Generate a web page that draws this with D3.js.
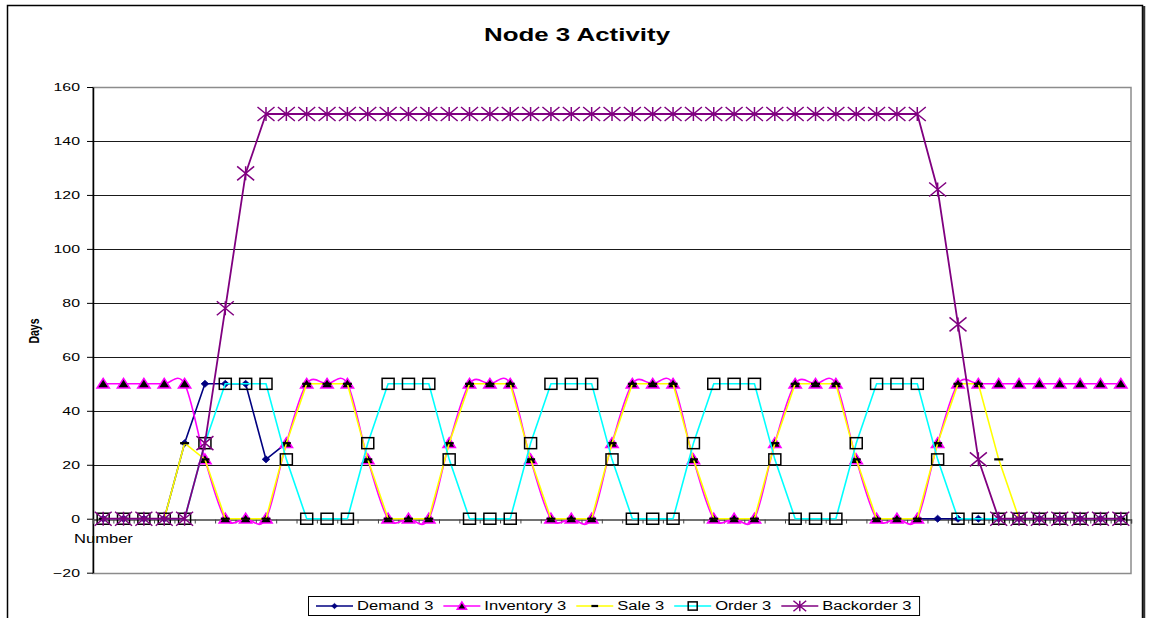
<!DOCTYPE html>
<html>
<head>
<meta charset="utf-8">
<script src="https://cdn.jsdelivr.net/npm/d3@7"></script>
<style>
  html, body { margin: 0; padding: 0; background: #fff; }
  svg { display: block; font-family: "Liberation Sans", Arial, sans-serif; }
</style>
</head>
<body>
<svg id="chart" width="1149" height="618"></svg>
<script>
// chart data
const categories = [1, 2, 3, 4, 5, 6, 7, 8, 9, 10, 11, 12, 13, 14, 15, 16, 17, 18, 19, 20,
  21, 22, 23, 24, 25, 26, 27, 28, 29, 30, 31, 32, 33, 34, 35, 36, 37, 38, 39, 40,
  41, 42, 43, 44, 45, 46, 47, 48, 49, 50, 51];
const yTicks = [-20, 0, 20, 40, 60, 80, 100, 120, 140, 160];

const demand = [0, 0, 0, 0, 28, 50, 50, 50, 22, 28,
  null, null, null, null, null, null, null, null, null, null,
  null, null, null, null, null, null, null, null, null, null,
  null, null, null, null, null, null, null, null, null, null,
  0, 0, 0, 0, 0, 0, 0, 0, 0, 0, 0];
const inventory = [50, 50, 50, 50, 50, 22, 0, 0, 0, 28,
  50, 50, 50, 22, 0, 0, 0, 28,
  50, 50, 50, 22, 0, 0, 0, 28,
  50, 50, 50, 22, 0, 0, 0, 28,
  50, 50, 50, 22, 0, 0, 0, 28,
  50, 50, 50, 50, 50, 50, 50, 50, 50];
const sale = [0, 0, 0, 0, 28, 22, 0, 0, 0, 28,
  50, 50, 50, 22, 0, 0, 0, 28,
  50, 50, 50, 22, 0, 0, 0, 28,
  50, 50, 50, 22, 0, 0, 0, 28,
  50, 50, 50, 22, 0, 0, 0, 28,
  50, 50, 22, 0, 0, 0, 0, 0, 0];
const order = [0, 0, 0, 0, 0, 28, 50, 50, 50, 22,
  0, 0, 0, 28, 50, 50, 50, 22,
  0, 0, 0, 28, 50, 50, 50, 22,
  0, 0, 0, 28, 50, 50, 50, 22,
  0, 0, 0, 28, 50, 50, 50, 22,
  0, 0, 0, 0, 0, 0, 0, 0, 0];
const backorder = [0, 0, 0, 0, 0, 28, 78, 128,
  150, 150, 150, 150, 150, 150, 150, 150, 150, 150, 150,
  150, 150, 150, 150, 150, 150, 150, 150, 150, 150, 150, 150,
  150, 150, 150, 150, 150, 150, 150, 150, 150, 150,
  122, 72, 22, 0, 0, 0, 0, 0, 0, 0];

const series = [
  { name: 'Demand 3', values: demand, color: '#000080', marker: 'diamond', smooth: false },
  { name: 'Inventory 3', values: inventory, color: '#ff00ff', marker: 'triangle', smooth: true },
  { name: 'Sale 3', values: sale, color: '#ffff00', marker: 'dash', smooth: false },
  { name: 'Order 3', values: order, color: '#00ffff', marker: 'square', smooth: false },
  { name: 'Backorder 3', values: backorder, color: '#800080', marker: 'asterisk', smooth: false }
];

// the original picture is stretched sideways, text too
const SX = 1.38;

const svg = d3.select('#chart');
const plot = { left: 93, right: 1131, top: 87, bottom: 572.7 };

// outer frame
svg.append('rect')
  .attr('x', 7.5).attr('y', 5.5)
  .attr('width', 1135).attr('height', 630)
  .attr('fill', '#fff')
  .attr('stroke', '#000')
  .attr('stroke-width', 1.5);
svg.append('line')
  .attr('x1', 1144).attr('x2', 1144)
  .attr('y1', 6).attr('y2', 618)
  .attr('stroke', '#333')
  .attr('stroke-width', 2.5);

const x = d3.scaleBand()
  .domain(categories)
  .range([plot.left, plot.right])
  .padding(0);

const y = d3.scaleLinear()
  .domain([-20, 160])
  .range([plot.bottom, plot.top]);

const cx = i => x(categories[i]) + x.bandwidth() / 2;

// grid lines
svg.append('g')
  .selectAll('line')
  .data(yTicks.filter(t => t > 0 && t < 160))
  .join('line')
  .attr('x1', plot.left).attr('x2', plot.right)
  .attr('y1', d => Math.round(y(d)) + 0.5).attr('y2', d => Math.round(y(d)) + 0.5)
  .attr('stroke', '#1a1a1a')
  .attr('stroke-width', 1);

// plot area border
svg.append('rect')
  .attr('x', plot.left).attr('y', Math.round(plot.top) + 0.5)
  .attr('width', plot.right - plot.left)
  .attr('height', Math.round(plot.bottom) - Math.round(plot.top))
  .attr('fill', 'none')
  .attr('stroke', '#8c8c8c')
  .attr('stroke-width', 1.5);

// y axis
const yAxis = svg.append('g')
  .attr('transform', `translate(${plot.left},0)`)
  .call(d3.axisLeft(y).tickValues(yTicks).tickSize(6).tickPadding(7).tickSizeOuter(0));
yAxis.select('.domain').attr('stroke', '#000').attr('stroke-width', 1.5);
yAxis.selectAll('.tick line').attr('stroke', '#000');
yAxis.selectAll('text')
  .attr('x', -13 / SX)
  .attr('transform', `scale(${SX},1)`)
  .style('font-size', '11.5px')
  .attr('fill', '#000');

// x axis at zero, ticks between categories
const xb = d3.scaleLinear().domain([0, categories.length]).range([plot.left, plot.right]);
const xAxis = svg.append('g')
  .attr('transform', `translate(0,${Math.round(y(0)) + 0.5})`)
  .call(d3.axisBottom(xb).tickValues(d3.range(categories.length + 1)).tickSize(4).tickFormat(''));
xAxis.select('.domain').attr('stroke', '#444').attr('stroke-width', 1.5);
xAxis.selectAll('.tick line').attr('stroke', '#444');

// series lines and markers
function drawMarker(g, type, px, py, s, color) {
  if (type === 'diamond') {
    g.append('path')
      .attr('d', `M${px},${py - 3.5 * s}L${px + 3.8 * s},${py}L${px},${py + 3.5 * s}L${px - 3.8 * s},${py}Z`)
      .attr('fill', color).attr('stroke', color).attr('stroke-width', 0.8);
  } else if (type === 'triangle') {
    g.append('path')
      .attr('d', `M${px},${py - 5.5 * s}L${px + 6.2 * s},${py + 4.3 * s}L${px - 6.2 * s},${py + 4.3 * s}Z`)
      .attr('fill', '#000').attr('stroke', color).attr('stroke-width', 1.5);
  } else if (type === 'dash') {
    g.append('rect')
      .attr('x', px - 4.5 * s).attr('y', py - 1.1)
      .attr('width', 9 * s).attr('height', 2.2)
      .attr('fill', '#000');
  } else if (type === 'square') {
    g.append('rect')
      .attr('x', px - 6 * s).attr('y', py - 5.5 * s)
      .attr('width', 12 * s).attr('height', 11 * s)
      .attr('fill', 'none').attr('stroke', '#000').attr('stroke-width', 1.5);
  } else if (type === 'asterisk') {
    const w = 8.5 * s, h = 7 * s;
    g.append('path')
      .attr('d', `M${px - w},${py - h}L${px + w},${py + h}M${px - w},${py + h}L${px + w},${py - h}M${px},${py - h}L${px},${py + h}`)
      .attr('fill', 'none').attr('stroke', color).attr('stroke-width', 1.5);
  }
}

series.forEach(s => {
  const g = svg.append('g');
  const line = d3.line()
    .defined(d => d != null)
    .x((d, i) => cx(i))
    .y(d => y(d))
    .curve(s.smooth ? d3.curveCatmullRom.alpha(0) : d3.curveLinear);
  g.append('path')
    .datum(s.values)
    .attr('fill', 'none')
    .attr('stroke', s.color)
    .attr('stroke-width', s.marker === 'asterisk' ? 1.8 : 1.6)
    .attr('d', line);
  s.values.forEach((v, i) => {
    if (v != null) drawMarker(g, s.marker, cx(i), y(v), 1, s.color);
  });
});

// title
svg.append('text')
  .attr('transform', `translate(577,41) scale(${SX + 0.02},1)`)
  .attr('text-anchor', 'middle')
  .style('font-size', '18.5px')
  .style('font-weight', 'bold')
  .text('Node 3 Activity');

// y axis title
svg.append('text')
  .attr('transform', `translate(38.5,331) scale(${SX},1) rotate(-90)`)
  .attr('text-anchor', 'middle')
  .style('font-size', '10.5px')
  .style('font-weight', 'bold')
  .text('Days');

// x axis title
svg.append('text')
  .attr('transform', `translate(74,543) scale(${SX},1)`)
  .style('font-size', '12px')
  .text('Number');

// legend
const legend = svg.append('g');
const legendBox = legend.append('rect')
  .attr('y', 596.5).attr('height', 19)
  .attr('fill', '#fff').attr('stroke', '#000').attr('stroke-width', 1);
const ly = 606;
let lx = 316;
series.forEach(s => {
  legend.append('line')
    .attr('x1', lx).attr('x2', lx + 37)
    .attr('y1', ly).attr('y2', ly)
    .attr('stroke', s.color).attr('stroke-width', 1.6);
  drawMarker(legend, s.marker, lx + 18.5, ly, 0.75, s.color);
  const t = legend.append('text')
    .attr('transform', `translate(${lx + 41},${ly + 4.3}) scale(${SX},1)`)
    .style('font-size', '12px')
    .text(s.name);
  lx += 41 + t.node().getComputedTextLength() * SX + 10;
});
legendBox.attr('x', 308.5).attr('width', lx - 10 + 8 - 308.5);
</script>
</body>
</html>
